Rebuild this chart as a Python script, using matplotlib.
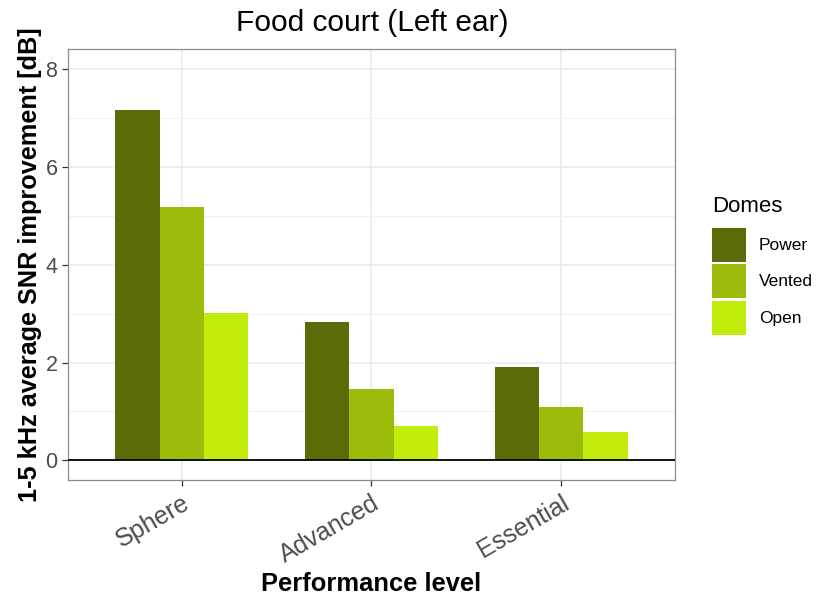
import matplotlib
matplotlib.use("Agg")
import matplotlib.pyplot as plt
import numpy as np
from matplotlib.patches import Rectangle
from matplotlib.ticker import MultipleLocator

# Data: 1-5 kHz average SNR improvement per performance level and dome type
levels = ["Sphere", "Advanced", "Essential"]
domes = ["Power", "Vented", "Open"]
power = [7.15, 2.83, 1.91]
vented = [5.18, 1.45, 1.09]
open_dome = [3.02, 0.70, 0.58]
dome_colors = ["#5B6B08", "#9BBC0A", "#C2ED0C"]
y_ticks = [0, 2, 4, 6, 8]

plt.rcParams["font.family"] = ["Liberation Sans", "DejaVu Sans"]

W, H = 819, 598
fig = plt.figure(figsize=(W / 100, H / 100), dpi=100)
ax = fig.add_axes([67.8 / W, 1 - 480 / H, (675 - 67.8) / W, (480 - 49.3) / H])

x = np.arange(1, len(levels) + 1)
width = 0.7 / len(domes)
series = [power, vented, open_dome]
for i, (vals, col) in enumerate(zip(series, dome_colors)):
    ax.bar(x + (i - 1) * width, vals, width=width, color=col, linewidth=0, zorder=3)

ax.set_xlim(0.4, 3.6)
ax.set_ylim(-0.4, 8.4)
ax.set_yticks(y_ticks)
ax.yaxis.set_minor_locator(MultipleLocator(1))
ax.set_xticks(x)
ax.set_xticklabels(levels, rotation=30, ha="right", va="top", rotation_mode="anchor")

ax.set_axisbelow(True)
ax.grid(which="major", color="#EBEBEB", linewidth=1.2, zorder=0)
ax.grid(which="minor", axis="y", color="#F1F1F1", linewidth=0.8, zorder=0)
ax.axhline(0, color="black", linewidth=1.3, zorder=4)

for s in ax.spines.values():
    s.set_color("#8C8C8C")
    s.set_linewidth(0.9)
ax.tick_params(which="major", length=4, width=0.9, color="#333333",
               labelcolor="#4D4D4D")
ax.tick_params(axis="y", which="major", labelsize=15.5, pad=3.5)
ax.tick_params(axis="x", which="major", labelsize=18, pad=4)
ax.tick_params(which="minor", length=0)

# Titles
fig.text(372 / W, 1 - 31 / H, "Food court (Left ear)", ha="center", va="baseline",
         fontsize=21.5, color="black")
fig.text(371 / W, 1 - 591 / H, "Performance level", ha="center", va="baseline",
         fontsize=18.4, fontweight="bold", color="black")
fig.text(30 / W, 1 - 265 / H, "1-5 kHz average SNR improvement [dB]", ha="center",
         va="center", rotation=90, fontsize=18.2, fontweight="bold", color="black")

# Legend
fig.text(712 / W, 1 - 212 / H, "Domes", ha="left", va="baseline", fontsize=16)
key_tops = [228, 264.5, 301]
for top, name, col in zip(key_tops, domes, dome_colors):
    fig.patches.append(Rectangle((711.7 / W, 1 - (top + 34) / H), 34 / W, 34 / H,
                                 transform=fig.transFigure, facecolor=col,
                                 edgecolor="none"))
    fig.text(759 / W, 1 - (top + 17) / H, name, ha="left", va="center", fontsize=12.5)

fig.savefig("out.png", dpi=100)
